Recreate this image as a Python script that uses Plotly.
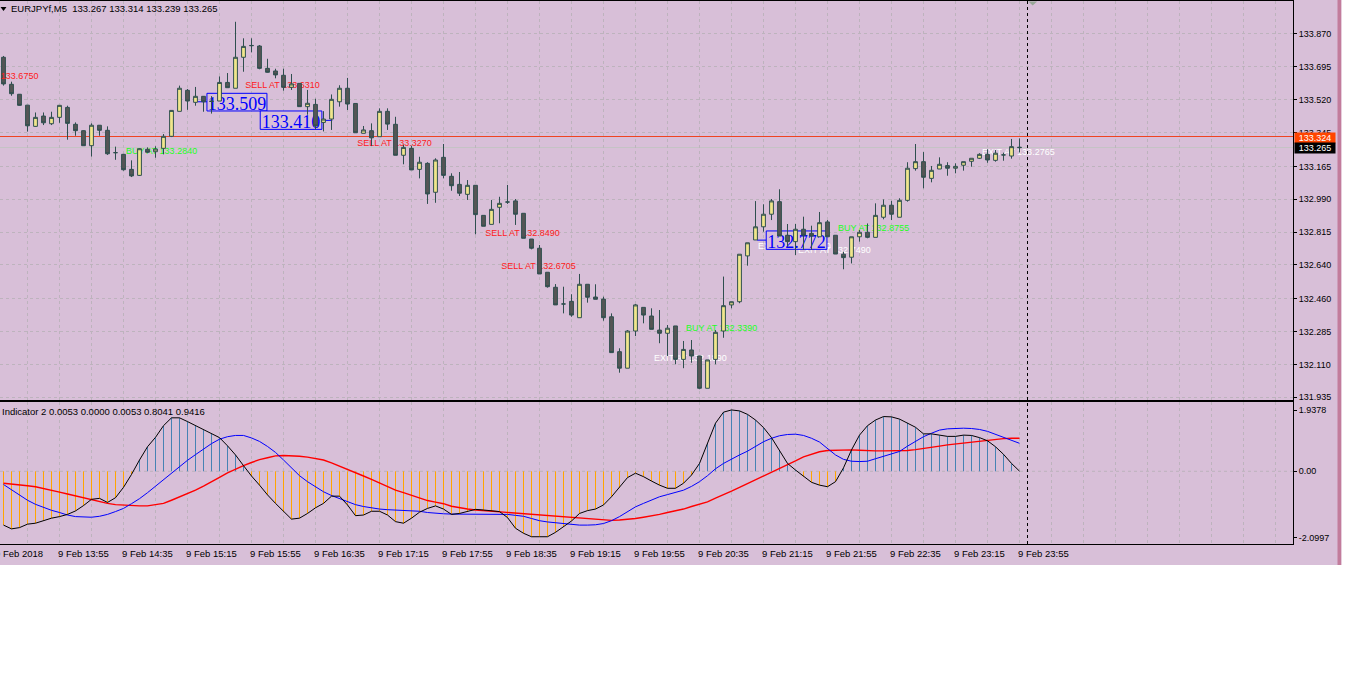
import plotly.graph_objects as go

# ---------------- data ----------------
header_text = "EURJPYf,M5\u00a0\u00a0133.267 133.314 133.239 133.265"
indicator_text = "Indicator 2 0.0053 0.0000 0.0053 0.8041 0.9416"

opens = [133.746, 133.602, 133.549, 133.491, 133.378, 133.433, 133.392, 133.426, 133.479, 133.389,
         133.355, 133.275, 133.384, 133.357, 133.238, 133.229, 133.149, 133.117, 133.256, 133.243,
         133.261, 133.325, 133.458, 133.570, 133.506, 133.538, 133.512, 133.513, 133.612, 133.581,
         133.746, 133.809, 133.806, 133.687, 133.673, 133.650, 133.586, 133.607, 133.483, 133.495,
         133.399, 133.417, 133.509, 133.581, 133.500, 133.341, 133.355, 133.323, 133.458, 133.389,
         133.224, 133.261, 133.149, 133.181, 133.027, 133.213, 133.112, 133.069, 133.016, 133.064,
         132.904, 132.856, 132.947, 132.975, 132.981, 132.915, 132.778, 132.729, 132.601, 132.521,
         132.432, 132.446, 132.359, 132.537, 132.469, 132.458, 132.364, 132.178, 132.090, 132.288,
         132.414, 132.368, 132.293, 132.276, 132.315, 132.137, 132.187, 132.155, 131.983, 132.137,
         132.288, 132.427, 132.444, 132.688, 132.773, 132.843, 132.910, 132.977, 132.798, 132.764,
         132.830, 132.808, 132.790, 132.869, 132.798, 132.697, 132.681, 132.790, 132.814, 132.787,
         132.894, 132.958, 132.894, 132.984, 133.153, 133.190, 133.101, 133.151, 133.169, 133.155,
         133.171, 133.192, 133.208, 133.229, 133.197, 133.226, 133.220, 133.267]
highs = [133.753, 133.616, 133.550, 133.491, 133.452, 133.452, 133.456, 133.491, 133.488, 133.399,
         133.357, 133.394, 133.385, 133.378, 133.270, 133.231, 133.197, 133.261, 133.266, 133.272,
         133.337, 133.463, 133.595, 133.577, 133.588, 133.539, 133.539, 133.644, 133.662, 133.935,
         133.847, 133.847, 133.811, 133.738, 133.685, 133.685, 133.657, 133.607, 133.572, 133.525,
         133.459, 133.548, 133.597, 133.636, 133.500, 133.380, 133.394, 133.474, 133.474, 133.429,
         133.280, 133.275, 133.216, 133.187, 133.208, 133.284, 133.128, 133.135, 133.092, 133.064,
         132.904, 132.986, 133.003, 133.066, 132.991, 132.915, 132.778, 132.746, 132.601, 132.538,
         132.524, 132.484, 132.592, 132.537, 132.537, 132.471, 132.382, 132.196, 132.293, 132.432,
         132.414, 132.409, 132.400, 132.320, 132.315, 132.235, 132.240, 132.155, 132.134, 132.293,
         132.578, 132.444, 132.697, 132.758, 132.980, 132.963, 132.991, 133.043, 132.858, 132.858,
         132.897, 132.849, 132.922, 132.879, 132.798, 132.710, 132.790, 132.826, 132.861, 132.968,
         132.989, 132.981, 132.995, 133.187, 133.284, 133.241, 133.167, 133.213, 133.187, 133.181,
         133.190, 133.208, 133.235, 133.256, 133.252, 133.238, 133.311, 133.314]
lows = [133.595, 133.541, 133.488, 133.350, 133.376, 133.385, 133.385, 133.397, 133.307, 133.328,
        133.275, 133.217, 133.328, 133.226, 133.200, 133.142, 133.108, 133.114, 133.236, 133.211,
        133.229, 133.321, 133.458, 133.466, 133.488, 133.456, 133.446, 133.513, 133.584, 133.581,
        133.669, 133.772, 133.682, 133.664, 133.634, 133.568, 133.572, 133.483, 133.440, 133.362,
        133.351, 133.359, 133.483, 133.465, 133.344, 133.341, 133.273, 133.323, 133.359, 133.224,
        133.176, 133.146, 133.101, 132.965, 132.971, 133.101, 133.035, 133.007, 132.986, 132.803,
        132.846, 132.856, 132.862, 132.965, 132.853, 132.782, 132.723, 132.592, 132.519, 132.427,
        132.382, 132.364, 132.359, 132.439, 132.457, 132.343, 132.173, 132.066, 132.090, 132.261,
        132.329, 132.297, 132.223, 132.155, 132.111, 132.090, 132.119, 131.978, 131.983, 132.111,
        132.252, 132.409, 132.436, 132.636, 132.773, 132.817, 132.879, 132.794, 132.737, 132.693,
        132.720, 132.720, 132.790, 132.790, 132.698, 132.617, 132.648, 132.764, 132.782, 132.787,
        132.883, 132.879, 132.894, 132.977, 133.142, 133.048, 133.080, 133.151, 133.115, 133.128,
        133.142, 133.163, 133.204, 133.184, 133.190, 133.195, 133.206, 133.239]
closes = [133.604, 133.552, 133.490, 133.381, 133.426, 133.397, 133.426, 133.490, 133.394, 133.355,
          133.275, 133.384, 133.357, 133.232, 133.238, 133.147, 133.114, 133.259, 133.240, 133.257,
          133.325, 133.463, 133.581, 133.513, 133.538, 133.509, 133.511, 133.612, 133.584, 133.746,
          133.804, 133.808, 133.687, 133.666, 133.652, 133.586, 133.604, 133.483, 133.501, 133.380,
          133.417, 133.522, 133.581, 133.497, 133.344, 133.359, 133.317, 133.458, 133.390, 133.224,
          133.266, 133.146, 133.187, 133.018, 133.199, 133.117, 133.062, 133.022, 133.064, 132.908,
          132.846, 132.936, 132.968, 132.975, 132.910, 132.782, 132.729, 132.592, 132.524, 132.427,
          132.432, 132.373, 132.537, 132.468, 132.457, 132.359, 132.173, 132.090, 132.288, 132.427,
          132.373, 132.297, 132.276, 132.303, 132.137, 132.190, 132.155, 131.983, 132.134, 132.281,
          132.423, 132.444, 132.697, 132.758, 132.843, 132.910, 132.981, 132.794, 132.764, 132.830,
          132.798, 132.794, 132.865, 132.790, 132.698, 132.679, 132.790, 132.814, 132.787, 132.904,
          132.958, 132.910, 132.984, 133.155, 133.190, 133.107, 133.144, 133.176, 133.155, 133.165,
          133.190, 133.208, 133.229, 133.199, 133.235, 133.226, 133.270, 133.265]

osc_main = [-1.71, -1.83, -1.79, -1.68, -1.65, -1.56, -1.49, -1.44, -1.37, -1.26,
            -1.09, -0.89, -0.86, -0.99, -0.84, -0.51, -0.10, 0.36, 0.78, 1.08,
            1.45, 1.70, 1.70, 1.58, 1.45, 1.31, 1.19, 1.07, 0.81, 0.52,
            0.18, -0.15, -0.44, -0.75, -1.02, -1.28, -1.52, -1.49, -1.34, -1.16,
            -1.02, -0.79, -0.79, -1.07, -1.41, -1.39, -1.27, -1.27, -1.39, -1.60,
            -1.65, -1.49, -1.30, -1.18, -1.10, -1.20, -1.37, -1.34, -1.28, -1.21,
            -1.23, -1.26, -1.28, -1.47, -1.81, -1.97, -2.08, -2.08, -2.08, -1.94,
            -1.76, -1.58, -1.34, -1.25, -1.20, -1.07, -0.81, -0.52, -0.20, -0.06,
            -0.17, -0.31, -0.44, -0.54, -0.54, -0.38, -0.12, 0.25, 0.89, 1.53,
            1.88, 1.95, 1.92, 1.81, 1.63, 1.39, 1.07, 0.65, 0.25, 0.04,
            -0.17, -0.35, -0.44, -0.49, -0.33, 0.11, 0.68, 1.15, 1.45, 1.63,
            1.74, 1.73, 1.66, 1.54, 1.40, 1.19, 1.19, 1.15, 1.11, 1.11,
            1.15, 1.14, 1.07, 0.97, 0.78, 0.54, 0.25, 0.0053]
osc_fast = [-0.42, -0.58, -0.74, -0.92, -1.05, -1.15, -1.24, -1.31, -1.39, -1.44,
            -1.46, -1.46, -1.43, -1.37, -1.28, -1.18, -1.03, -0.87, -0.68, -0.47,
            -0.28, -0.04, 0.15, 0.35, 0.53, 0.71, 0.88, 1.02, 1.10, 1.14,
            1.14, 1.06, 0.95, 0.79, 0.60, 0.36, 0.10, -0.14, -0.33, -0.49,
            -0.65, -0.77, -0.86, -0.97, -1.06, -1.12, -1.17, -1.20, -1.22, -1.23,
            -1.24, -1.24, -1.27, -1.31, -1.34, -1.35, -1.36, -1.36, -1.36, -1.36,
            -1.36, -1.35, -1.35, -1.37, -1.40, -1.43, -1.50, -1.57, -1.61, -1.64,
            -1.67, -1.69, -1.71, -1.71, -1.70, -1.66, -1.57, -1.44, -1.29, -1.13,
            -1.02, -0.91, -0.81, -0.74, -0.68, -0.60, -0.48, -0.33, -0.14, 0.08,
            0.25, 0.39, 0.52, 0.64, 0.80, 0.94, 1.05, 1.13, 1.17, 1.18,
            1.14, 1.05, 0.93, 0.72, 0.52, 0.38, 0.32, 0.31, 0.32, 0.40,
            0.47, 0.55, 0.63, 0.80, 0.95, 1.10, 1.21, 1.31, 1.35, 1.37,
            1.37, 1.36, 1.33, 1.27, 1.18, 1.08, 0.98, 0.89]
osc_slow = [-0.38, -0.40, -0.43, -0.46, -0.49, -0.54, -0.60, -0.66, -0.72, -0.78,
            -0.85, -0.92, -0.97, -1.02, -1.06, -1.08, -1.10, -1.10, -1.10, -1.07,
            -1.02, -0.92, -0.82, -0.71, -0.60, -0.47, -0.34, -0.19, -0.05, 0.07,
            0.18, 0.28, 0.37, 0.43, 0.49, 0.50, 0.50, 0.48, 0.45, 0.40,
            0.36, 0.27, 0.17, 0.07, -0.03, -0.15, -0.26, -0.38, -0.49, -0.60,
            -0.68, -0.76, -0.85, -0.93, -0.98, -1.03, -1.11, -1.16, -1.20, -1.23,
            -1.25, -1.27, -1.29, -1.30, -1.32, -1.34, -1.36, -1.38, -1.41, -1.44,
            -1.46, -1.48, -1.49, -1.51, -1.53, -1.56, -1.56, -1.55, -1.53, -1.50,
            -1.46, -1.42, -1.37, -1.31, -1.26, -1.20, -1.12, -1.04, -0.97, -0.85,
            -0.75, -0.63, -0.51, -0.39, -0.27, -0.15, -0.04, 0.07, 0.21, 0.33,
            0.46, 0.54, 0.62, 0.66, 0.67, 0.68, 0.68, 0.67, 0.65, 0.65,
            0.65, 0.65, 0.65, 0.66, 0.69, 0.72, 0.76, 0.80, 0.84, 0.87,
            0.91, 0.93, 0.96, 0.99, 1.02, 1.04, 1.05, 1.05]

price_ticks = [133.870, 133.695, 133.520, 133.345, 133.165, 132.990,
               132.815, 132.640, 132.460, 132.285, 132.110, 131.935]
osc_ticks = [1.9378, 0.0, -2.0997]
osc_ticktext = ["1.9378", "0.00", "-2.0997"]

time_labels = ["9 Feb 13:55", "9 Feb 14:35", "9 Feb 15:15", "9 Feb 15:55", "9 Feb 16:35",
               "9 Feb 17:15", "9 Feb 17:55", "9 Feb 18:35", "9 Feb 19:15", "9 Feb 19:55",
               "9 Feb 20:35", "9 Feb 21:15", "9 Feb 21:55", "9 Feb 22:35", "9 Feb 23:15",
               "9 Feb 23:55"]
time_label_bars = [7, 15, 23, 31, 39, 47, 55, 63, 71, 79, 87, 95, 103, 111, 119, 127]
first_date_label = "9 Feb 2018"

ask_price = 133.324
bid_price = 133.265

# trade text labels: (text, colour, bar where text starts, price of text centre)
trade_labels = [
    ("SELL AT 133.6310", "#FF2020", 29.85, 133.602),
    ("SELL AT 133.3270", "#FF2020", 43.85, 133.296),
    ("BUY AT 133.2840", "#22FF22", 14.95, 133.252),
    ("SELL AT 132.8490", "#FF2020", 59.85, 132.817),
    ("SELL AT 132.6705", "#FF2020", 61.85, 132.640),
    ("BUY AT 132.3390", "#22FF22", 84.95, 132.311),
    ("EXIT AT 132.1890", "#FFFFFF", 80.95, 132.151),
    ("EXIT AT 132.7790", "#FFFFFF", 93.95, 132.746),
    ("EXIT AT 132.7490", "#FFFFFF", 98.95, 132.723),
    ("BUY AT 132.8755", "#22FF22", 103.95, 132.844),
    ("EXIT AT 133.2765", "#FFFFFF", 121.95, 133.248),
]
# boxed price labels: (text, bar left, bar right, price low, price high, connector start bar)
boxed_labels = [
    ("133.509", 25.43, 32.93, 133.460, 133.554, 24.3),
    ("133.410", 32.09, 39.80, 133.362, 133.460, 41.1),
    ("132.772", 95.34, 102.93, 132.723, 132.821, 94.2),
]

# ---------------- figure ----------------
BG = "#D8BFD8"
GRID = "#BDB3BD"
FONT = "Liberation Sans"
bars = list(range(len(opens)))

fig = go.Figure()

fig.add_trace(go.Candlestick(
    x=bars, open=opens, high=highs, low=lows, close=closes,
    xaxis="x", yaxis="y",
    increasing=dict(line=dict(color="#2F4F4F", width=1), fillcolor="#F0E68C"),
    decreasing=dict(line=dict(color="#2F4F4F", width=1), fillcolor="#555555"),
    whiskerwidth=0, showlegend=False, hoverinfo="skip"))

# histogram of the oscillator as thin vertical sticks
for sign, col in ((-1, "#FFA500"), (1, "#4682B4")):
    hx, hy = [], []
    for b, v in zip(bars, osc_main):
        if (v < 0 and sign < 0) or (v >= 0 and sign > 0):
            hx += [b, b, None]
            hy += [0, v, None]
    fig.add_trace(go.Scatter(x=hx, y=hy, mode="lines", xaxis="x2", yaxis="y2",
                             line=dict(color=col, width=1), showlegend=False, hoverinfo="skip"))

fig.add_trace(go.Scatter(x=bars, y=osc_slow, mode="lines", xaxis="x2", yaxis="y2",
                         line=dict(color="#FF0000", width=1.4), showlegend=False, hoverinfo="skip"))
fig.add_trace(go.Scatter(x=bars, y=osc_fast, mode="lines", xaxis="x2", yaxis="y2",
                         line=dict(color="#0000FF", width=1), showlegend=False, hoverinfo="skip"))
fig.add_trace(go.Scatter(x=bars, y=osc_main, mode="lines", xaxis="x2", yaxis="y2",
                         line=dict(color="#000000", width=1), showlegend=False, hoverinfo="skip"))

# pixel geometry helpers (layout only)
W_PLOT, H_PLOT = 1293, 543
x_lo = -3.5 / 8
x_hi = x_lo + W_PLOT / 8
y_main = [131.9206, 134.0457]
y_osc = [-2.3109, 2.2028]
main_dom = [(544 - 400) / 543, 1.0]
osc_dom = [0.0, (544 - 402) / 543]
grid_bars = list(range(3, 162, 4))

shapes = []
# ask / bid lines
shapes.append(dict(type="line", xref="paper", yref="y", x0=0, x1=1, y0=ask_price, y1=ask_price,
                   line=dict(color="#EE4422", width=1), layer="between"))
shapes.append(dict(type="line", xref="paper", yref="y", x0=0, x1=1, y0=bid_price, y1=bid_price,
                   line=dict(color="#C4C4C4", width=1), layer="between"))
# zero line of oscillator
shapes.append(dict(type="line", xref="paper", yref="y2", x0=0, x1=1, y0=0, y1=0,
                   line=dict(color=GRID, width=1, dash="3px,3px"), layer="between"))
# text labels behind candles
for text, col, b, p in trade_labels:
    shapes.append(dict(type="rect", xref="x", yref="y", x0=b, x1=b + 0.01, y0=p, y1=p,
                       line=dict(width=0), fillcolor="rgba(0,0,0,0)", layer="between",
                       label=dict(text=text, font=dict(family=FONT, size=9, color=col),
                                  textposition="middle left", padding=0)))
# boxed labels
for text, b0, b1, p0, p1, bc in boxed_labels:
    pm = float(text)
    xa, xb = (bc, b0) if bc < b0 else (b1, bc)
    shapes.append(dict(type="line", xref="x", yref="y", x0=xa, x1=xb, y0=pm, y1=pm,
                       line=dict(color="#0000FF", width=1), layer="between"))
    shapes.append(dict(type="rect", xref="x", yref="y", x0=b0, x1=b1, y0=p0, y1=p1,
                       line=dict(color="#0000FF", width=1), fillcolor=BG, layer="between",
                       label=dict(text=text, font=dict(family="Liberation Serif", size=18, color="#0000FF"),
                                  textposition="middle center", padding=0)))
# dashed vertical cursor line
shapes.append(dict(type="line", xref="x", yref="paper", x0=128, x1=128, y0=0, y1=1,
                   line=dict(color="#000000", width=1, dash="3px,3px"), layer="above"))
# shift marker triangle
shapes.append(dict(type="path", xref="x", yref="paper",
                   path="M 128.1 0.999 L 129.2 0.999 L 128.65 0.9915 Z",
                   fillcolor="#98A898", line=dict(width=0), layer="above"))
# header dropdown triangle
shapes.append(dict(type="path", xref="paper", yref="paper",
                   path="M 0.0004 0.9890 L 0.0050 0.9890 L 0.0027 0.9816 Z",
                   fillcolor="#000000", line=dict(width=0), layer="above"))
# outer window: dark strip and white outside area
shapes.append(dict(type="rect", xref="paper", yref="paper", x0=1337.5 / W_PLOT, x1=1341.5 / W_PLOT,
                   y0=(544 - 565) / 543, y1=1.01, fillcolor="#C27C9C", line=dict(width=0), layer="above"))
shapes.append(dict(type="rect", xref="paper", yref="paper", x0=1341.5 / W_PLOT, x1=1.2,
                   y0=-0.4, y1=1.05, fillcolor="#FFFFFF", line=dict(width=0), layer="above"))
shapes.append(dict(type="rect", xref="paper", yref="paper", x0=-0.1, x1=1.2,
                   y0=-0.4, y1=(544 - 565) / 543, fillcolor="#FFFFFF", line=dict(width=0), layer="above"))

annotations = []
annotations.append(dict(xref="paper", yref="paper", x=0, y=(544 - 9) / 543, xanchor="left", yanchor="middle",
                        xshift=9, text=header_text, showarrow=False,
                        font=dict(family=FONT, size=9.5, color="#000000")))
annotations.append(dict(xref="paper", yref="paper", x=0, y=(544 - 411) / 543, xanchor="left", yanchor="middle",
                        xshift=0, text=indicator_text, showarrow=False,
                        font=dict(family=FONT, size=9.5, color="#000000")))
annotations.append(dict(xref="x", yref="y", x=4.6, y=133.645, xanchor="right", yanchor="middle",
                        text="SELL AT 133.6750", showarrow=False,
                        font=dict(family=FONT, size=9, color="#FF2020")))
for lbl, b in zip(time_labels, time_label_bars):
    annotations.append(dict(xref="x", yref="paper", x=b, y=(544 - 553) / 543, xanchor="left",
                            yanchor="middle", xshift=-4, text=lbl, showarrow=False,
                            font=dict(family=FONT, size=9.5, color="#000000")))
annotations.append(dict(xref="x", yref="paper", x=0, y=(544 - 553) / 543, xanchor="left",
                        yanchor="middle", xshift=-11, text=first_date_label, showarrow=False,
                        font=dict(family=FONT, size=9.5, color="#000000")))
annotations.append(dict(xref="paper", yref="y", x=1, y=ask_price, xanchor="left", yanchor="middle",
                        xshift=1, yshift=-1, text=f"{ask_price:.3f}", showarrow=False, bgcolor="#FF4500",
                        width=40, height=10, borderpad=0, align="center",
                        font=dict(family=FONT, size=9, color="#FFFFFF")))
annotations.append(dict(xref="paper", yref="y", x=1, y=bid_price, xanchor="left", yanchor="middle",
                        xshift=1, yshift=0, text=f"{bid_price:.3f}", showarrow=False, bgcolor="#000000",
                        width=40, height=10, borderpad=0, align="center",
                        font=dict(family=FONT, size=9, color="#FFFFFF")))

axis_x_common = dict(range=[x_lo, x_hi], showticklabels=False, ticks="", tickmode="array",
                     tickvals=grid_bars, showgrid=True, gridcolor=GRID, griddash="3px,3px",
                     gridwidth=1, zeroline=False, showline=True, linecolor="#000000", linewidth=1,
                     mirror=True, fixedrange=True)

fig.update_layout(
    width=1359, height=675, autosize=False,
    margin=dict(l=0, r=66, t=1, b=131, pad=0),
    paper_bgcolor=BG, plot_bgcolor=BG,
    showlegend=False,
    xaxis=dict(domain=[0, 1], anchor="y", rangeslider=dict(visible=False), **axis_x_common),
    xaxis2=dict(domain=[0, 1], anchor="y2", matches="x", **axis_x_common),
    yaxis=dict(domain=main_dom, anchor="x", range=y_main, side="right", tickmode="array",
               tickvals=price_ticks, ticktext=[f"{v:.3f}" for v in price_ticks],
               ticks="outside", ticklen=3, tickcolor="#000000", showgrid=True, gridcolor=GRID,
               griddash="3px,3px", zeroline=False, showline=True, linecolor="#000000",
               tickfont=dict(family=FONT, size=9, color="#000000"), fixedrange=True),
    yaxis2=dict(domain=osc_dom, anchor="x2", range=y_osc, side="right", tickmode="array",
                tickvals=osc_ticks, ticktext=osc_ticktext, ticks="outside", ticklen=3,
                tickcolor="#000000", showgrid=False, zeroline=False, showline=True,
                linecolor="#000000", tickfont=dict(family=FONT, size=9, color="#000000"),
                fixedrange=True),
    shapes=shapes, annotations=annotations,
    boxgap=0.32,
)

fig.write_html("out.html")
